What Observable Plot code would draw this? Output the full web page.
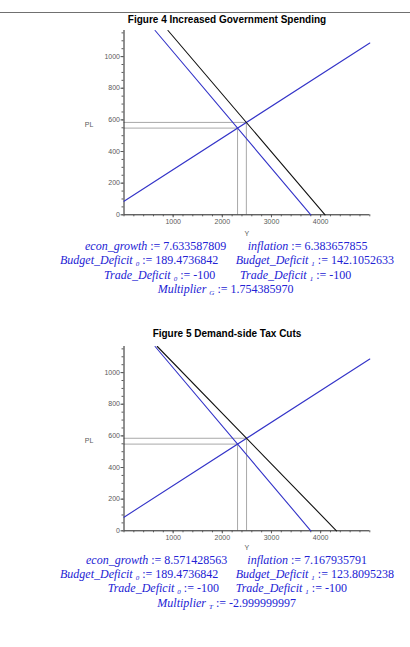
<!DOCTYPE html>
<html>
<head>
<meta charset="utf-8">
<script src="https://cdn.jsdelivr.net/npm/d3@7"></script>
<script src="https://cdn.jsdelivr.net/npm/@observablehq/plot@0.6"></script>
<style>
  html, body { margin: 0; padding: 0; background: #fff; }
  #page { position: relative; width: 410px; height: 647px; overflow: hidden; background: #fff; }
  #topRule { position: absolute; left: 0; top: 11px; width: 410px; height: 3px; display: block; }
  .title { position: absolute; font: bold 10px "Liberation Sans", Arial, sans-serif; color: #000; white-space: nowrap; line-height: 10px; transform: translateX(-50%); }
  .eq { position: absolute; font: 12px "Liberation Serif", "Times New Roman", serif; color: #2222d4; white-space: nowrap; line-height: 12px; height: 12px; }
  .eq i { font-style: italic; }
  .eq .sb { font-size: 7px; font-style: italic; position: relative; top: 2px; }
  .chart { position: absolute; }
</style>
</head>
<body>
<div id="page">
  <svg id="topRule" width="410" height="3" viewBox="0 0 410 3"><line x1="0" y1="1.5" x2="410" y2="1.5" stroke="#707070" stroke-width="1.2"></line></svg>
</div>
<script>
// ---------- data ----------
const titles = ["Figure 4 Increased Government Spending", "Figure 5 Demand-side Tax Cuts"];
const xTickValues = [1000, 2000, 3000, 4000];
const yTickValues = [0, 200, 400, 600, 800, 1000];
const xMinorTicks = d3.range(0, 5001, 200);
const yMinorTicks = d3.range(0, 1151, 50);
const xDomain = [0, 5000];
const yDomain = [0, 1165];

// aggregate supply (same in both figures)
const asY = [0, 5000];
const asPL = [86, 1086];
// initial aggregate demand (same in both figures)
const ad0Y = [633, 3800];
const ad0PL = [1165, 0];
// shifted aggregate demand
const fig4Ad1Y = [895, 4090];
const fig4Ad1PL = [1165, 0];
const fig5Ad1Y = [678, 4322];
const fig5Ad1PL = [1165, 0];
// equilibria (Y, PL): before, after
const fig4EqY = [2310, 2489];
const fig4EqPL = [548, 584];
const fig5EqY = [2310, 2493];
const fig5EqPL = [548, 585];

// results text: [name, subscript, value]
const fig4Results = [
  ["econ_growth", "", "7.633587809"], ["inflation", "", "6.383657855"],
  ["Budget_Deficit", "0", "189.4736842"], ["Budget_Deficit", "1", "142.1052633"],
  ["Trade_Deficit", "0", "-100"], ["Trade_Deficit", "1", "-100"],
  ["Multiplier", "G", "1.754385970"]
];
const fig5Results = [
  ["econ_growth", "", "8.571428563"], ["inflation", "", "7.167935791"],
  ["Budget_Deficit", "0", "189.4736842"], ["Budget_Deficit", "1", "123.8095238"],
  ["Trade_Deficit", "0", "-100"], ["Trade_Deficit", "1", "-100"],
  ["Multiplier", "T", "-2.999999997"]
];

// ---------- layout ----------
const figs = [
  { top: 0, yLabelDy: 19, ad1Y: fig4Ad1Y, ad1PL: fig4Ad1PL, eqY: fig4EqY, eqPL: fig4EqPL, results: fig4Results,
    pos: [[85, 250], [247.7, 250], [60, 264], [235.7, 264], [104, 278.5], [240, 278.5], [157.7, 293]] },
  { top: 313.5, yLabelDy: 16.5, ad1Y: fig5Ad1Y, ad1PL: fig5Ad1PL, eqY: fig5EqY, eqPL: fig5EqPL, results: fig5Results,
    pos: [[86, 563.5], [247.3, 563.5], [60, 577.5], [235.7, 577.5], [107.7, 592], [235.7, 592], [157.3, 606.5]] }
];

const page = document.getElementById("page");
const blue = "#3434c8";
const grid = "#a8a8a8";
const axisGray = "#5a5a5a";

function seg(xs, ys) { return xs.map((x, i) => ({ x, y: ys[i] })); }

figs.forEach((f, k) => {
  const t = document.createElement("div");
  t.className = "title";
  t.style.left = "227px";
  t.style.top = (15 + f.top) + "px";
  t.textContent = titles[k];
  page.appendChild(t);

  const eqs = f.eqY.map((y, i) => ({ Y: y, PL: f.eqPL[i] }));

  const chart = Plot.plot({
    width: 320, height: 215,
    marginLeft: 63.5, marginRight: 10.7, marginTop: 4, marginBottom: 26.7,
    x: { domain: xDomain, axis: null },
    y: { domain: yDomain, axis: null },
    style: { background: "transparent", overflow: "visible" },
    marks: [
      // equilibrium reference lines
      Plot.ruleY(eqs, { y: "PL", x1: 0, x2: "Y", stroke: grid, strokeWidth: 1 }),
      Plot.ruleX(eqs, { x: "Y", y1: 0, y2: "PL", stroke: grid, strokeWidth: 1 }),
      // axes lines
      Plot.ruleY([0], { x1: xDomain[0], x2: xDomain[1], stroke: "#222", strokeWidth: 1 }),
      Plot.ruleX([0], { y1: yDomain[0], y2: yDomain[1], stroke: "#222", strokeWidth: 1 }),
      // ticks
      Plot.axisX(xMinorTicks, { anchor: "bottom", tickSize: 2, tickFormat: () => "", color: axisGray }),
      Plot.axisX(xTickValues, { anchor: "bottom", tickSize: 3, tickPadding: 1, fontSize: 7, color: axisGray, tickFormat: d => String(d) }),
      Plot.axisY(yMinorTicks, { anchor: "left", tickSize: 2, tickFormat: () => "", color: axisGray }),
      Plot.axisY(yTickValues, { anchor: "left", tickSize: 3, tickPadding: 1, fontSize: 7, color: axisGray, tickFormat: d => String(d) }),
      // curves
      Plot.line(seg(asY, asPL), { x: "x", y: "y", stroke: blue, strokeWidth: 1.1 }),
      Plot.line(seg(ad0Y, ad0PL), { x: "x", y: "y", stroke: blue, strokeWidth: 1.1 }),
      Plot.line(seg(f.ad1Y, f.ad1PL), { x: "x", y: "y", stroke: "#111", strokeWidth: 1.1 }),
      // axis titles
      Plot.text(["PL"], { x: 0, y: 568, dx: -35, fontSize: 7, fill: axisGray, fontFamily: "Liberation Sans" }),
      Plot.text(["Y"], { x: 2500, y: 0, dy: f.yLabelDy, fontSize: 7, fill: axisGray, fontFamily: "Liberation Sans" })
    ]
  });
  chart.classList.add("chart");
  chart.style.left = "60px";
  chart.style.top = (26 + f.top + (k === 1 ? 2.7 : 0)) + "px";
  chart.setAttribute("font-family", "Liberation Sans, Arial, sans-serif");
  page.appendChild(chart);

  f.results.forEach((r, i) => {
    const d = document.createElement("div");
    d.className = "eq";
    d.style.left = f.pos[i][0] + "px";
    d.style.top = (f.pos[i][1] - 10) + "px";
    const name = document.createElement("i");
    name.textContent = r[0];
    d.appendChild(name);
    if (r[1]) {
      d.appendChild(document.createTextNode(" "));
      const s = document.createElement("span");
      s.className = "sb";
      s.textContent = r[1];
      d.appendChild(s);
    }
    d.appendChild(document.createTextNode(" := " + r[2]));
    page.appendChild(d);
  });
});
</script>
</body>
</html>
